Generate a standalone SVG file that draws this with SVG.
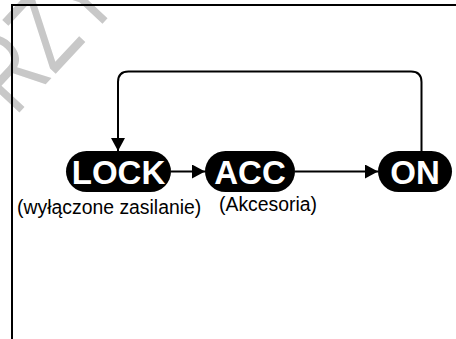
<svg xmlns="http://www.w3.org/2000/svg" width="456" height="339" viewBox="0 0 456 339">
  <defs>
    <style>
      .wm { font-family: "Liberation Sans", Arial, sans-serif; font-size: 110px; fill: #c8c8c8; }
      .pill { fill: #000000; }
      .ptext { font-family: "Liberation Sans", Arial, sans-serif; font-weight: bold; font-size: 33px; fill: #ffffff; text-anchor: middle; }
      .label { font-family: "Liberation Sans", Arial, sans-serif; font-size: 19.4px; fill: #000000; }
      .conn { fill: none; stroke: #000000; stroke-width: 2; }
      .frame { fill: none; stroke: #000000; stroke-width: 2; }
    </style>
    <marker id="arrow" markerUnits="userSpaceOnUse" markerWidth="14" markerHeight="14" refX="13" refY="7" orient="auto" viewBox="0 0 14 14">
      <path d="M0,0 L13,7 L0,14 Z" fill="#000000"/>
    </marker>
  </defs>
  <rect width="456" height="339" fill="#ffffff"/>
  <text class="wm" transform="translate(-21 156) rotate(-47) scale(0.72 1)">PRZYKŁAD</text>
  <path class="frame" d="M12,339 V5 H456"/>
  <g id="connectors">
    <path class="conn" d="M421.5,151 V82 Q421.5,71.5 411,71.5 H128.5 Q118,71.5 118,82 V151" marker-end="url(#arrow)"/>
    <path class="conn" d="M171,171.5 H205" marker-end="url(#arrow)"/>
    <path class="conn" d="M295,171.5 H378" marker-end="url(#arrow)"/>
  </g>
  <g id="lock">
    <rect class="pill" x="66" y="151" width="105" height="41" rx="20.5"/>
    <text class="ptext" x="118.5" y="184">LOCK</text>
    <text class="label" x="17" y="214">(wyłączone zasilanie)</text>
  </g>
  <g id="acc">
    <rect class="pill" x="205" y="151" width="90" height="41" rx="20.5"/>
    <text class="ptext" x="250" y="184">ACC</text>
    <text class="label" x="219" y="211">(Akcesoria)</text>
  </g>
  <g id="on">
    <rect class="pill" x="378" y="151" width="74" height="41" rx="20.5"/>
    <text class="ptext" x="415" y="184">ON</text>
  </g>
</svg>
